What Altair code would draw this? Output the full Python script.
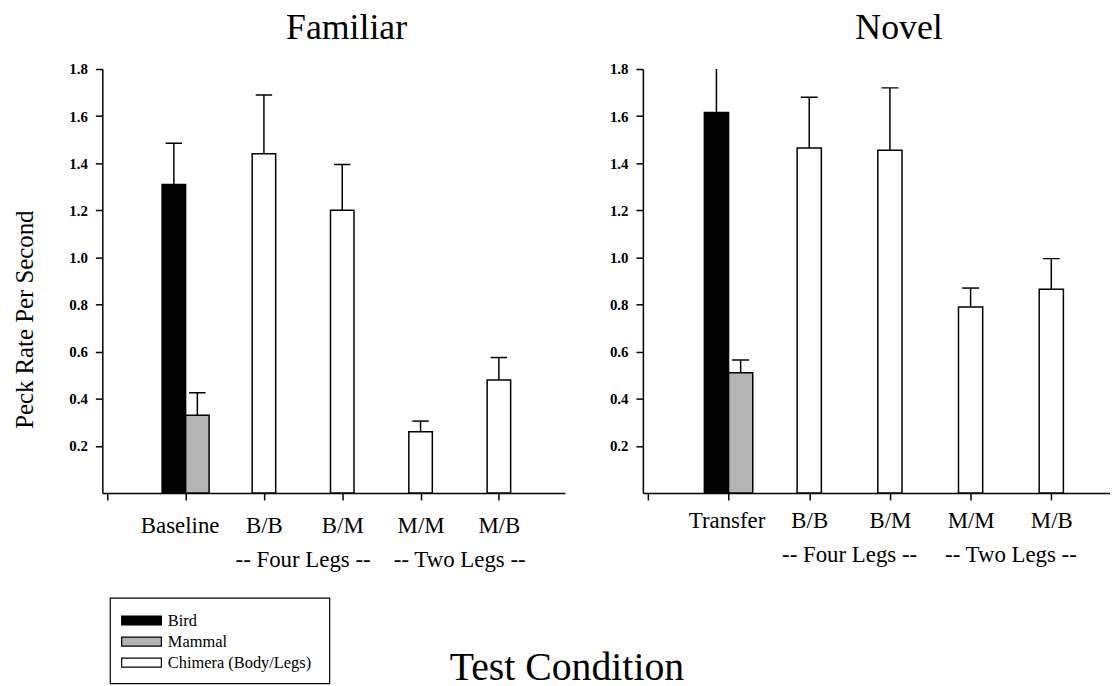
import json
import altair as alt
import pandas as pd

FONT = "Liberation Serif"

# ---------------- data ----------------
familiar_conditions = ["Baseline", "B/B", "B/M", "M/M", "M/B"]
novel_conditions = ["Transfer", "B/B", "B/M", "M/M", "M/B"]
series_names = ["Bird", "Mammal", "Chimera (Body/Legs)"]
series_colors = ["#000000", "#b4b4b4", "#ffffff"]
leg_groups = ["-- Four Legs --", "-- Two Legs --"]
leg_group_members = [["B/B", "B/M"], ["M/M", "M/B"]]

familiar_bird = [1.31]
familiar_bird_upper = [1.485]
familiar_mammal = [0.33]
familiar_mammal_upper = [0.425]
familiar_chimera = [1.44, 1.20, 0.26, 0.48]
familiar_chimera_upper = [1.69, 1.395, 0.305, 0.575]

novel_bird = [1.615]
novel_bird_upper = [1.83]
novel_mammal = [0.51]
novel_mammal_upper = [0.565]
novel_chimera = [1.465, 1.455, 0.79, 0.865]
novel_chimera_upper = [1.68, 1.72, 0.87, 0.995]

y_ticks = [0.2, 0.4, 0.6, 0.8, 1.0, 1.2, 1.4, 1.6, 1.8]

# ---------------- styling constants ----------------
BAR_HALF = 0.15
CAP_HALF = 0.105
HEIGHT = 427


def panel_df(conditions, bird, bird_up, mammal, mammal_up, chim, chim_up):
    pos = {c: i + 1 for i, c in enumerate(conditions)}
    first = conditions[0]
    rows = [
        dict(condition=first, series=series_names[0], mean=bird[0], upper=bird_up[0], pos=pos[first], side=-1),
        dict(condition=first, series=series_names[1], mean=mammal[0], upper=mammal_up[0], pos=pos[first], side=1),
    ]
    for c, m, u in zip(conditions[1:], chim, chim_up):
        rows.append(dict(condition=c, series=series_names[2], mean=m, upper=u, pos=pos[c], side=0))
    return pd.DataFrame(rows)


def group_df(conditions):
    pos = {c: i + 1 for i, c in enumerate(conditions)}
    return pd.DataFrame({
        "label": leg_groups,
        "gx": [sum(pos[m] for m in mem) / len(mem) for mem in leg_group_members],
    })


def panel(df, conditions, title, dx, width, xmax, label_pad, first_label_shift, group_dy, y_title, extra=None):
    xscale = alt.Scale(domain=[0, xmax], nice=False, zero=False)
    yscale = alt.Scale(domain=[0, 1.8], nice=False)
    label_arr = json.dumps([""] + conditions)
    xaxis = alt.Axis(
        values=list(range(len(conditions) + 1)),
        labelExpr=f"{label_arr}[datum.value]",
        labelOffset={"condition": {"test": "datum.value == 1", "value": first_label_shift}, "value": 0},
        title=None, grid=False, tickSize=7, labelPadding=label_pad,
        labelFontSize=23, labelFont=FONT, labelColor="black",
        domainColor="black", tickColor="black", domainWidth=1.5, tickWidth=1.5,
        labelFlush=False, labelOverlap=False,
    )
    yaxis_kw = dict(
        values=y_ticks, format=".1f", grid=False, tickSize=7, labelPadding=8,
        labelFontSize=15, labelFont=FONT, labelFontWeight="bold", labelColor="black",
        domainColor="black", tickColor="black", domainWidth=1.5, tickWidth=1.5,
        labelFlush=False, labelOverlap=False,
    )
    if y_title:
        yaxis_kw.update(
            title=y_title, titleFont=FONT, titleFontSize=25, titleFontWeight="normal",
            titleColor="black", titleAngle=270, titleX=-70, titleY=252,
            titleAlign="center", titleBaseline="alphabetic",
        )
    else:
        yaxis_kw.update(title=None)
    yaxis = alt.Axis(**yaxis_kw)

    base = alt.Chart(df).transform_calculate(
        center=f"datum.pos + datum.side * {BAR_HALF}",
    ).transform_calculate(
        x0=f"datum.center - {BAR_HALF}",
        x1=f"datum.center + {BAR_HALF}",
        cap0=f"datum.center - {CAP_HALF}",
        cap1=f"datum.center + {CAP_HALF}",
    )

    bars = base.mark_bar(stroke="black", strokeWidth=1.5, orient="vertical").encode(
        x=alt.X("x0:Q", scale=xscale, axis=xaxis),
        x2="x1:Q",
        y=alt.Y("mean:Q", scale=yscale, axis=yaxis),
        color=alt.Color("series:N", scale=alt.Scale(domain=series_names, range=series_colors), legend=None),
    )
    err = base.mark_rule(color="black", strokeWidth=1.5, clip=True).encode(
        x=alt.X("center:Q", scale=xscale, axis=xaxis),
        y=alt.Y("mean:Q", scale=yscale, axis=yaxis),
        y2="upper:Q",
    )
    cap = base.mark_rule(color="black", strokeWidth=1.5, clip=True).encode(
        x=alt.X("cap0:Q", scale=xscale, axis=xaxis),
        x2="cap1:Q",
        y=alt.Y("upper:Q", scale=yscale, axis=yaxis),
    )
    groups = alt.Chart(group_df(conditions)).mark_text(
        font=FONT, fontSize=23, baseline="alphabetic", align="center", color="black"
    ).encode(
        x=alt.X("gx:Q", scale=xscale, axis=xaxis),
        y=alt.value(HEIGHT + group_dy),
        text="label:N",
    )
    layers = [bars, err, cap, groups] + (extra or [])
    return alt.layer(*layers).properties(
        width=width, height=HEIGHT,
        title=alt.TitleParams(
            title, fontSize=36, font=FONT, fontWeight="normal", color="black",
            anchor="middle", dx=dx, offset=-13, baseline="alphabetic",
        ),
    )


# ---------------- legend and bottom title (left panel, pixel placed) ----------------
one = pd.DataFrame({"k": [0]})
legend_layers = [
    alt.Chart(one).mark_rect(fill="white", stroke="black", strokeWidth=1.2).encode(
        x=alt.value(8), x2=alt.value(229), y=alt.value(533), y2=alt.value(619)
    )
]
for i, (name, col) in enumerate(zip(series_names, series_colors)):
    top = 551 + 21.2 * i
    legend_layers.append(
        alt.Chart(one).mark_rect(fill=col, stroke="black", strokeWidth=1.2).encode(
            x=alt.value(19.5), x2=alt.value(59.5), y=alt.value(top), y2=alt.value(top + 9)
        )
    )
    legend_layers.append(
        alt.Chart(one).mark_text(
            text=name, font=FONT, fontSize=16.5, align="left", baseline="alphabetic", color="black"
        ).encode(x=alt.value(66), y=alt.value(top + 9.8))
    )
legend_layers.append(
    alt.Chart(one).mark_text(
        text="Test Condition", font=FONT, fontSize=40, align="center", baseline="alphabetic", color="black"
    ).encode(x=alt.value(468), y=alt.value(615.5))
)

fam_df = panel_df(familiar_conditions, familiar_bird, familiar_bird_upper,
                  familiar_mammal, familiar_mammal_upper, familiar_chimera, familiar_chimera_upper)
nov_df = panel_df(novel_conditions, novel_bird, novel_bird_upper,
                  novel_mammal, novel_mammal_upper, novel_chimera, novel_chimera_upper)

left = panel(fam_df, familiar_conditions, "Familiar", 13, 466, 5.78, 15, -6, 75,
             "Peck Rate Per Second", legend_layers)
right = panel(nov_df, novel_conditions, "Novel", 23, 470, 5.66, 10, -2, 70, None)

chart = alt.HConcatChart(hconcat=[left, right], spacing=78.5, bounds="flush").configure_view(
    stroke=None
).properties(
    padding={"left": 5, "top": 0, "right": 0, "bottom": 0},
    background="white",
)

chart.save("out.html", embed_options={"renderer": "svg", "actions": False})
